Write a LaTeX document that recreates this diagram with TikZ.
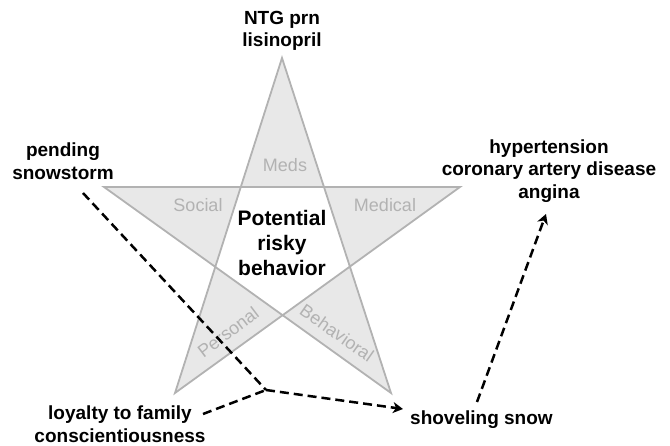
\documentclass[tikz,border=0pt]{standalone}
\usepackage{fontspec}
\setmainfont{Liberation Sans}
\usetikzlibrary{arrows.meta}
\begin{document}
\begin{tikzpicture}[x=1pt,y=-1pt,
  starline/.style={draw=black!30,line width=1.8pt,line join=miter},
  starfill/.style={fill=black!9},
  corner/.style={text=black!30,font=\fontsize{18}{20}\selectfont,inner sep=0pt},
  factor/.style={font=\bfseries\fontsize{19}{22.5}\selectfont,align=center,inner sep=0pt},
  core/.style={font=\bfseries\fontsize{21}{25}\selectfont,align=center,inner sep=0pt},
  link/.style={line width=2.5pt,dash pattern=on 9pt off 5pt},
  linkarrow/.style={link,-{Stealth[length=10pt,width=11pt,inset=3pt]}}]
\useasboundingbox (0,0) rectangle (670,446);

% star vertices
\coordinate (top) at (282,58);
\coordinate (lft) at (104,187);
\coordinate (rgt) at (460,187);
\coordinate (bl)  at (175,393);
\coordinate (br)  at (391,393);

% points of the star filled, inner pentagon left white
\path[starfill,even odd rule] (top) -- (bl) -- (rgt) -- (lft) -- (br) -- cycle;
\path[starline] (top) -- (bl) -- (rgt) -- (lft) -- (br) -- cycle;

% labels inside the points
\node[corner] (meds) at (285,165) {Meds};
\node[corner] (social) at (198,205) {Social};
\node[corner] (medical) at (385,205) {Medical};
\node[corner,rotate=37] (personal) at (228,332) {Personal};
\node[corner,rotate=-35] (behavioral) at (337,333) {Behavioral};

\node[core] (risk) at (282,243) {Potential\\risky\\behavior};

% surrounding factors
\node[factor] (meds2) at (282,31) {NTG prn\\lisinopril};
\node[factor] (storm) at (63,161) {pending\\snowstorm};
\node[factor] (history) at (549,171) {hypertension\\coronary artery disease\\angina};
\node[factor] (loyal) at (120,424) {loyalty to family\\conscientiousness};
\node[factor,anchor=west] (shovel) at (410,420) {shoveling snow};

% connector end points
\coordinate (j) at (266,390);
\coordinate (stormend) at (83,193);
\coordinate (loyalend) at (203,414);
\coordinate (shovelin) at (403,409);
\coordinate (shovelout) at (477,402);
\coordinate (historyin) at (546,214);

\draw[link] (stormend) -- (j);
\draw[link] (loyalend) -- (j);
\draw[linkarrow] (j) -- (shovelin);
\draw[linkarrow] (shovelout) -- (historyin);
\end{tikzpicture}
\end{document}
